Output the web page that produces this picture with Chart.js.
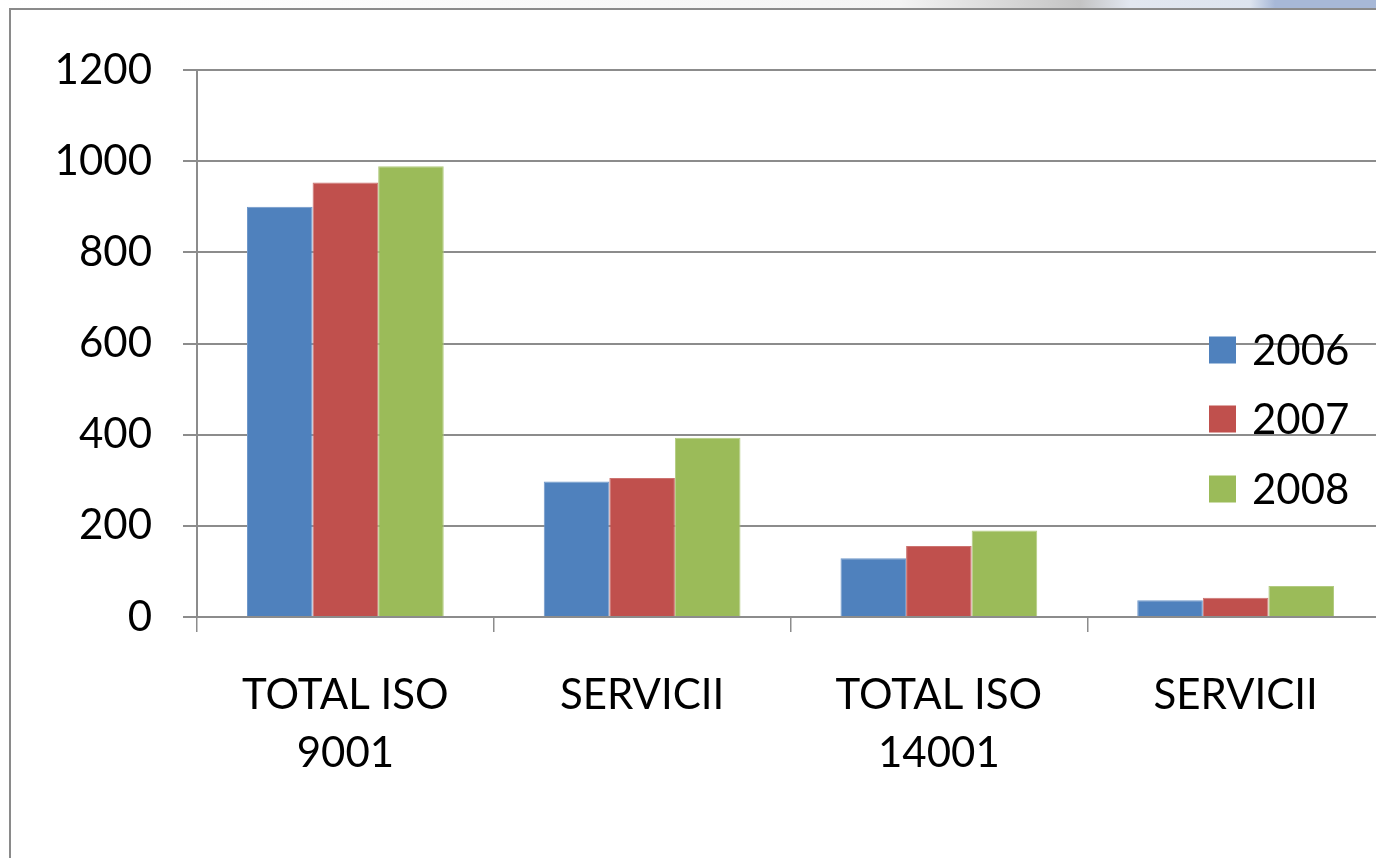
<!DOCTYPE html>
<html>
<head>
<meta charset="utf-8">
<title>ISO 9001 / 14001</title>
<script src="https://cdn.jsdelivr.net/npm/chart.js@4.4.1/dist/chart.umd.min.js"></script>
<style>
    html, body {
        margin: 0;
        padding: 0;
        width: 1376px;
        height: 858px;
        overflow: hidden;
        background: #ffffff;
    }
    #strip {
        position: absolute;
        left: 0;
        top: 0;
        width: 1376px;
        height: 8px;
        background: linear-gradient(to right, #ffffff 0px, #f4f4f4 900px, #c4c4c4 1080px, #e2e7f0 1130px, #dde4ef 1250px, #a7b8d7 1275px, #a7b8d7 1376px);
    }
    #frame {
        position: absolute;
        left: 9px;
        top: 8px;
        width: 1400px;
        height: 900px;
        border-left: 2px solid #8a8a8a;
        border-top: 2px solid #8a8a8a;
        background: #ffffff;
    }
    #chart {
        position: absolute;
        left: 0;
        top: 0;
    }
</style>
</head>
<body>
<div id="strip"></div>
<div id="frame"></div>
<canvas id="chart" width="1400" height="858"></canvas>

<script>
// Data
const categories = [["TOTAL ISO", "9001"], "SERVICII", ["TOTAL ISO", "14001"], "SERVICII"];
const years = ["2006", "2007", "2008"];
const values2006 = [900, 297, 129, 37];
const values2007 = [953, 305, 156, 42];
const values2008 = [989, 393, 190, 68];
const yTicks = [0, 200, 400, 600, 800, 1000, 1200];

const FONT = "Lato, 'Open Sans', sans-serif";
const GRID = "#8c8c8c";

// Legend drawn over the plot area, as in the original slide
const overlayLegend = {
    id: "overlayLegend",
    afterDraw(chart) {
        const ctx = chart.ctx;
        const rows = [350, 419, 489];
        ctx.save();
        ctx.font = "42px " + FONT;
        ctx.textBaseline = "middle";
        ctx.textAlign = "left";
        chart.data.datasets.forEach(function (ds, i) {
            const y = rows[i];
            ctx.fillStyle = ds.backgroundColor;
            ctx.fillRect(1209, y - 13.5, 27, 27);
            ctx.fillStyle = "#000000";
            ctx.fillText(ds.label, 1252, y + 1);
        });
        ctx.restore();
    }
};

const ctx = document.getElementById("chart").getContext("2d");
const chart = new Chart(ctx, {
    type: "bar",
    data: {
        labels: categories,
        datasets: [
            { label: years[0], data: values2006, backgroundColor: "#4f81bd", borderColor: "#6f97c9", borderWidth: 1 },
            { label: years[1], data: values2007, backgroundColor: "#c0504d", borderColor: "#cc7370", borderWidth: 1 },
            { label: years[2], data: values2008, backgroundColor: "#9bbb59", borderColor: "#b2cb80", borderWidth: 1 }
        ]
    },
    options: {
        responsive: false,
        animation: false,
        devicePixelRatio: 1,
        categoryPercentage: 0.663,
        barPercentage: 1,
        layout: {
            padding: { left: 0, top: 70, right: 16, bottom: 0 }
        },
        plugins: {
            legend: { display: false },
            tooltip: { enabled: false }
        },
        scales: {
            x: {
                grid: {
                    offset: true,
                    drawOnChartArea: false,
                    drawTicks: true,
                    tickLength: 15,
                    color: GRID,
                    lineWidth: 1.5
                },
                border: { color: GRID, width: 2 },
                ticks: {
                    color: "#000000",
                    padding: 34,
                    maxRotation: 0,
                    autoSkip: false,
                    font: { family: FONT, size: 42, lineHeight: 58 / 42 }
                },
                afterFit: function (scale) { scale.height = 858 - 617; }
            },
            y: {
                min: 0,
                max: 1200,
                afterBuildTicks: function (scale) {
                    scale.ticks = yTicks.map(function (v) { return { value: v }; });
                },
                grid: {
                    color: GRID,
                    lineWidth: 2,
                    tickLength: 14
                },
                border: { color: GRID, width: 2 },
                ticks: {
                    color: "#000000",
                    padding: 31,
                    font: { family: FONT, size: 42 },
                    callback: function (value) { return String(value); }
                },
                afterFit: function (scale) { scale.width = 197; }
            }
        }
    },
    plugins: [overlayLegend]
});
</script>
</body>
</html>
